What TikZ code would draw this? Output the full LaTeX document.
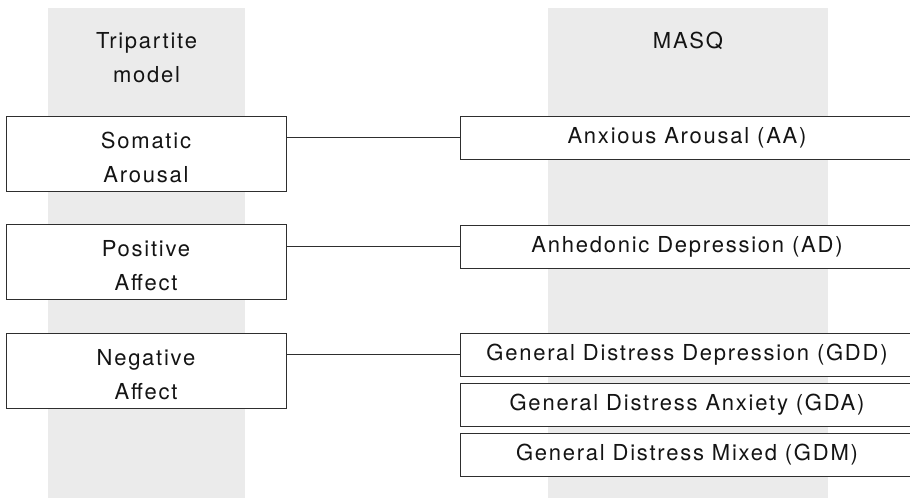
\documentclass[tikz,border=0pt]{standalone}
\usepackage{fontspec}
\setmainfont{TeX Gyre Heros}[LetterSpace=8]
\definecolor{band}{HTML}{EBEBEB}
\definecolor{edge}{HTML}{2E2E2E}
\definecolor{ink}{HTML}{141414}
\newcommand{\topstrut}{\rule{0pt}{24pt}}
\begin{document}
\begin{tikzpicture}[x=1pt,y=-1pt,
  every node/.style={font=\fontsize{22}{34}\selectfont, text=ink, inner sep=0pt},
  leftbox/.style={draw=edge, line width=1pt, fill=white, minimum width=280pt, minimum height=75pt, align=center},
  rightbox/.style={draw=edge, line width=1pt, fill=white, minimum width=454pt, minimum height=43pt, text height=15.5pt, text depth=4.5pt},
  link/.style={draw=edge, line width=1pt}]
\useasboundingbox (0,0) rectangle (910,498);
\clip (0,0) rectangle (910,498);
% grey column bands
\fill[band] (48,8) rectangle (245,498);
\fill[band] (548,8) rectangle (828,498);
% headings
\node[align=center, anchor=base] (thead) at (146.5,82) {Tripartite\\model};
\node[anchor=base] (mhead) at (688,48) {MASQ};
% left boxes
\node[leftbox] (sa) at (146,153.5) {\topstrut Somatic\\Arousal};
\node[leftbox] (pa) at (146,261.5) {\topstrut Positive\\Affect};
\node[leftbox] (na) at (146,370.5) {\topstrut Negative\\Affect};
% right boxes
\node[rightbox] (aa) at (687,137.5) {Anxious Arousal (AA)};
\node[rightbox] (ad) at (687,246.5) {Anhedonic Depression (AD)};
\node[rightbox] (gdd) at (687,354.5) {General Distress Depression (GDD)};
\node[rightbox] (gda) at (687,404.5) {General Distress Anxiety (GDA)};
\node[rightbox] (gdm) at (687,455) {General Distress Mixed (GDM)};
% connectors
\draw[link] (sa.east |- aa.west) -- (aa.west);
\draw[link] (pa.east |- ad.west) -- (ad.west);
\draw[link] (na.east |- gdd.west) -- (gdd.west);
\end{tikzpicture}
\end{document}
